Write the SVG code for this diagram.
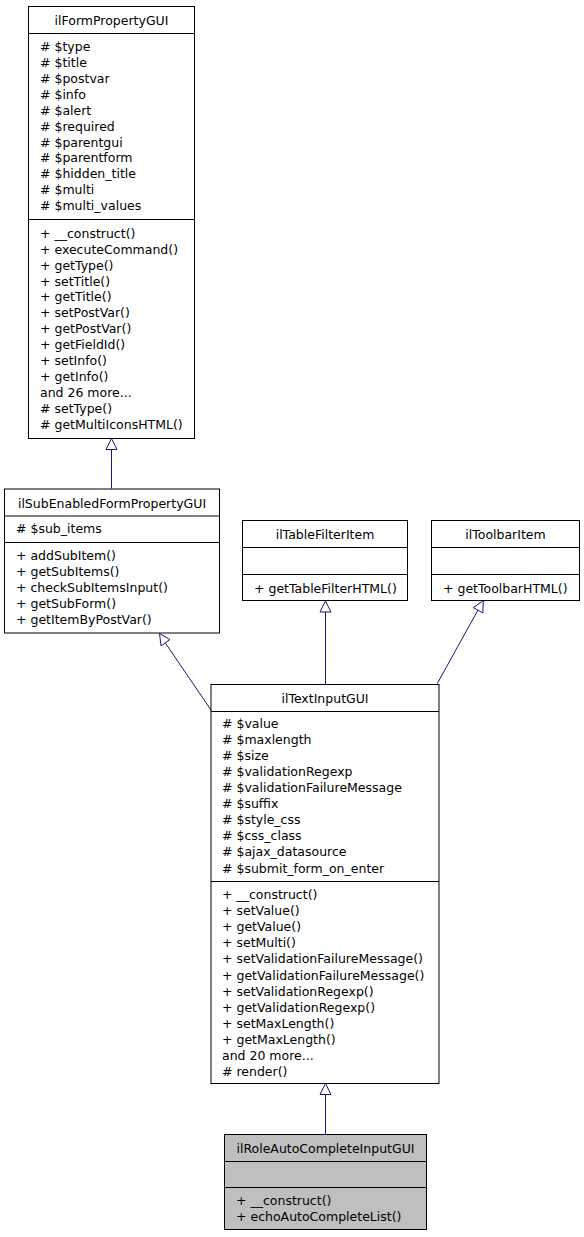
<svg xmlns="http://www.w3.org/2000/svg" width="584" height="1237" viewBox="0 0 584 1237">
<style>
text{font-family:"DejaVu Sans","Liberation Sans",sans-serif;font-size:12.5px;fill:#000}
.t{text-anchor:middle}
.box{fill:#fff;stroke:#000;stroke-width:1}
.sel{fill:#bfbfbf;stroke:#000;stroke-width:1}
.sep{stroke:#000;stroke-width:1}
.edge{stroke:#191970;stroke-width:1;fill:none}
.head{fill:#fff;stroke:#191970;stroke-width:1}
</style>
<rect width="584" height="1237" fill="#fff"/>
<g id="connectors">
  <line class="edge" x1="111.5" y1="488.5" x2="111.5" y2="449"/>
  <polygon class="head" points="111.5,438.5 106,449.5 117,449.5"/>
  <line class="edge" x1="211" y1="710" x2="165" y2="642.5"/>
  <polygon class="head" points="159.5,633.5 161,645.8 170,639.6"/>
  <line class="edge" x1="325.5" y1="684" x2="325.5" y2="612"/>
  <polygon class="head" points="325.5,601 320,612 331,612"/>
  <line class="edge" x1="437.3" y1="683.5" x2="478" y2="610"/>
  <polygon class="head" points="483.3,600.7 473.2,607.6 482.8,612.9"/>
  <line class="edge" x1="325.5" y1="1134" x2="325.5" y2="1094.5"/>
  <polygon class="head" points="325.5,1083.5 320,1094.5 331,1094.5"/>
</g>
<g id="ilFormPropertyGUI">
  <rect class="box" x="28.5" y="6.5" width="166" height="432"/>
  <line class="sep" x1="28.5" y1="33.5" x2="194.5" y2="33.5"/>
  <line class="sep" x1="28.5" y1="219.5" x2="194.5" y2="219.5"/>
  <text class="t" x="111.5" y="24.5">ilFormPropertyGUI</text>
  <text x="40" y="51">#  $type</text>
  <text x="40" y="67">#  $title</text>
  <text x="40" y="83">#  $postvar</text>
  <text x="40" y="99">#  $info</text>
  <text x="40" y="115">#  $alert</text>
  <text x="40" y="131">#  $required</text>
  <text x="40" y="147">#  $parentgui</text>
  <text x="40" y="162">#  $parentform</text>
  <text x="40" y="178">#  $hidden_title</text>
  <text x="40" y="194">#  $multi</text>
  <text x="40" y="210">#  $multi_values</text>
  <text x="40" y="237.5">+  __construct()</text>
  <text x="40" y="253.5">+  executeCommand()</text>
  <text x="40" y="269.5">+  getType()</text>
  <text x="40" y="285.5">+  setTitle()</text>
  <text x="40" y="301">+  getTitle()</text>
  <text x="40" y="317">+  setPostVar()</text>
  <text x="40" y="333">+  getPostVar()</text>
  <text x="40" y="349">+  getFieldId()</text>
  <text x="40" y="365">+  setInfo()</text>
  <text x="40" y="381">+  getInfo()</text>
  <text x="40" y="397">and 26 more...</text>
  <text x="40" y="412.5">#  setType()</text>
  <text x="40" y="428.5">#  getMultiIconsHTML()</text>
</g>
<g id="ilSubEnabledFormPropertyGUI">
  <rect class="box" x="4.5" y="489" width="215" height="144"/>
  <line class="sep" x1="4.5" y1="516" x2="219.5" y2="516"/>
  <line class="sep" x1="4.5" y1="542.5" x2="219.5" y2="542.5"/>
  <text class="t" x="112" y="507.5">ilSubEnabledFormPropertyGUI</text>
  <text x="16" y="532.5">#  $sub_items</text>
  <text x="16" y="560">+  addSubItem()</text>
  <text x="16" y="576">+  getSubItems()</text>
  <text x="16" y="592">+  checkSubItemsInput()</text>
  <text x="16" y="608">+  getSubForm()</text>
  <text x="16" y="624">+  getItemByPostVar()</text>
</g>
<g id="ilTableFilterItem">
  <rect class="box" x="242.5" y="520.5" width="165" height="80"/>
  <line class="sep" x1="242.5" y1="547.5" x2="407.5" y2="547.5"/>
  <line class="sep" x1="242.5" y1="574.5" x2="407.5" y2="574.5"/>
  <text class="t" x="325" y="539">ilTableFilterItem</text>
  <text x="254" y="592.5">+  getTableFilterHTML()</text>
</g>
<g id="ilToolbarItem">
  <rect class="box" x="431.5" y="520.5" width="148" height="80"/>
  <line class="sep" x1="431.5" y1="547.5" x2="579.5" y2="547.5"/>
  <line class="sep" x1="431.5" y1="574.5" x2="579.5" y2="574.5"/>
  <text class="t" x="505.5" y="539">ilToolbarItem</text>
  <text x="443" y="592.5">+  getToolbarHTML()</text>
</g>
<g id="ilTextInputGUI">
  <rect class="box" x="211" y="684.5" width="228" height="399"/>
  <line class="sep" x1="211" y1="711.5" x2="439" y2="711.5"/>
  <line class="sep" x1="211" y1="881.5" x2="439" y2="881.5"/>
  <text class="t" x="325" y="702.5">ilTextInputGUI</text>
  <text x="222" y="727.5">#  $value</text>
  <text x="222" y="743.5">#  $maxlength</text>
  <text x="222" y="759.5">#  $size</text>
  <text x="222" y="775.5">#  $validationRegexp</text>
  <text x="222" y="791.5">#  $validationFailureMessage</text>
  <text x="222" y="808">#  $suffix</text>
  <text x="222" y="824">#  $style_css</text>
  <text x="222" y="840">#  $css_class</text>
  <text x="222" y="856">#  $ajax_datasource</text>
  <text x="222" y="872.5">#  $submit_form_on_enter</text>
  <text x="222" y="899">+  __construct()</text>
  <text x="222" y="915">+  setValue()</text>
  <text x="222" y="931">+  getValue()</text>
  <text x="222" y="947">+  setMulti()</text>
  <text x="222" y="963">+  setValidationFailureMessage()</text>
  <text x="222" y="979.5">+  getValidationFailureMessage()</text>
  <text x="222" y="995.5">+  setValidationRegexp()</text>
  <text x="222" y="1011.5">+  getValidationRegexp()</text>
  <text x="222" y="1027.5">+  setMaxLength()</text>
  <text x="222" y="1043.5">+  getMaxLength()</text>
  <text x="222" y="1059.5">and 20 more...</text>
  <text x="222" y="1075.5">#  render()</text>
</g>
<g id="ilRoleAutoCompleteInputGUI">
  <rect class="sel" x="224.5" y="1134.5" width="202" height="95"/>
  <line class="sep" x1="224.5" y1="1161.5" x2="426.5" y2="1161.5"/>
  <line class="sep" x1="224.5" y1="1187.5" x2="426.5" y2="1187.5"/>
  <text class="t" x="325.5" y="1152.5">ilRoleAutoCompleteInputGUI</text>
  <text x="236" y="1205">+  __construct()</text>
  <text x="236" y="1221">+  echoAutoCompleteList()</text>
</g>
</svg>
